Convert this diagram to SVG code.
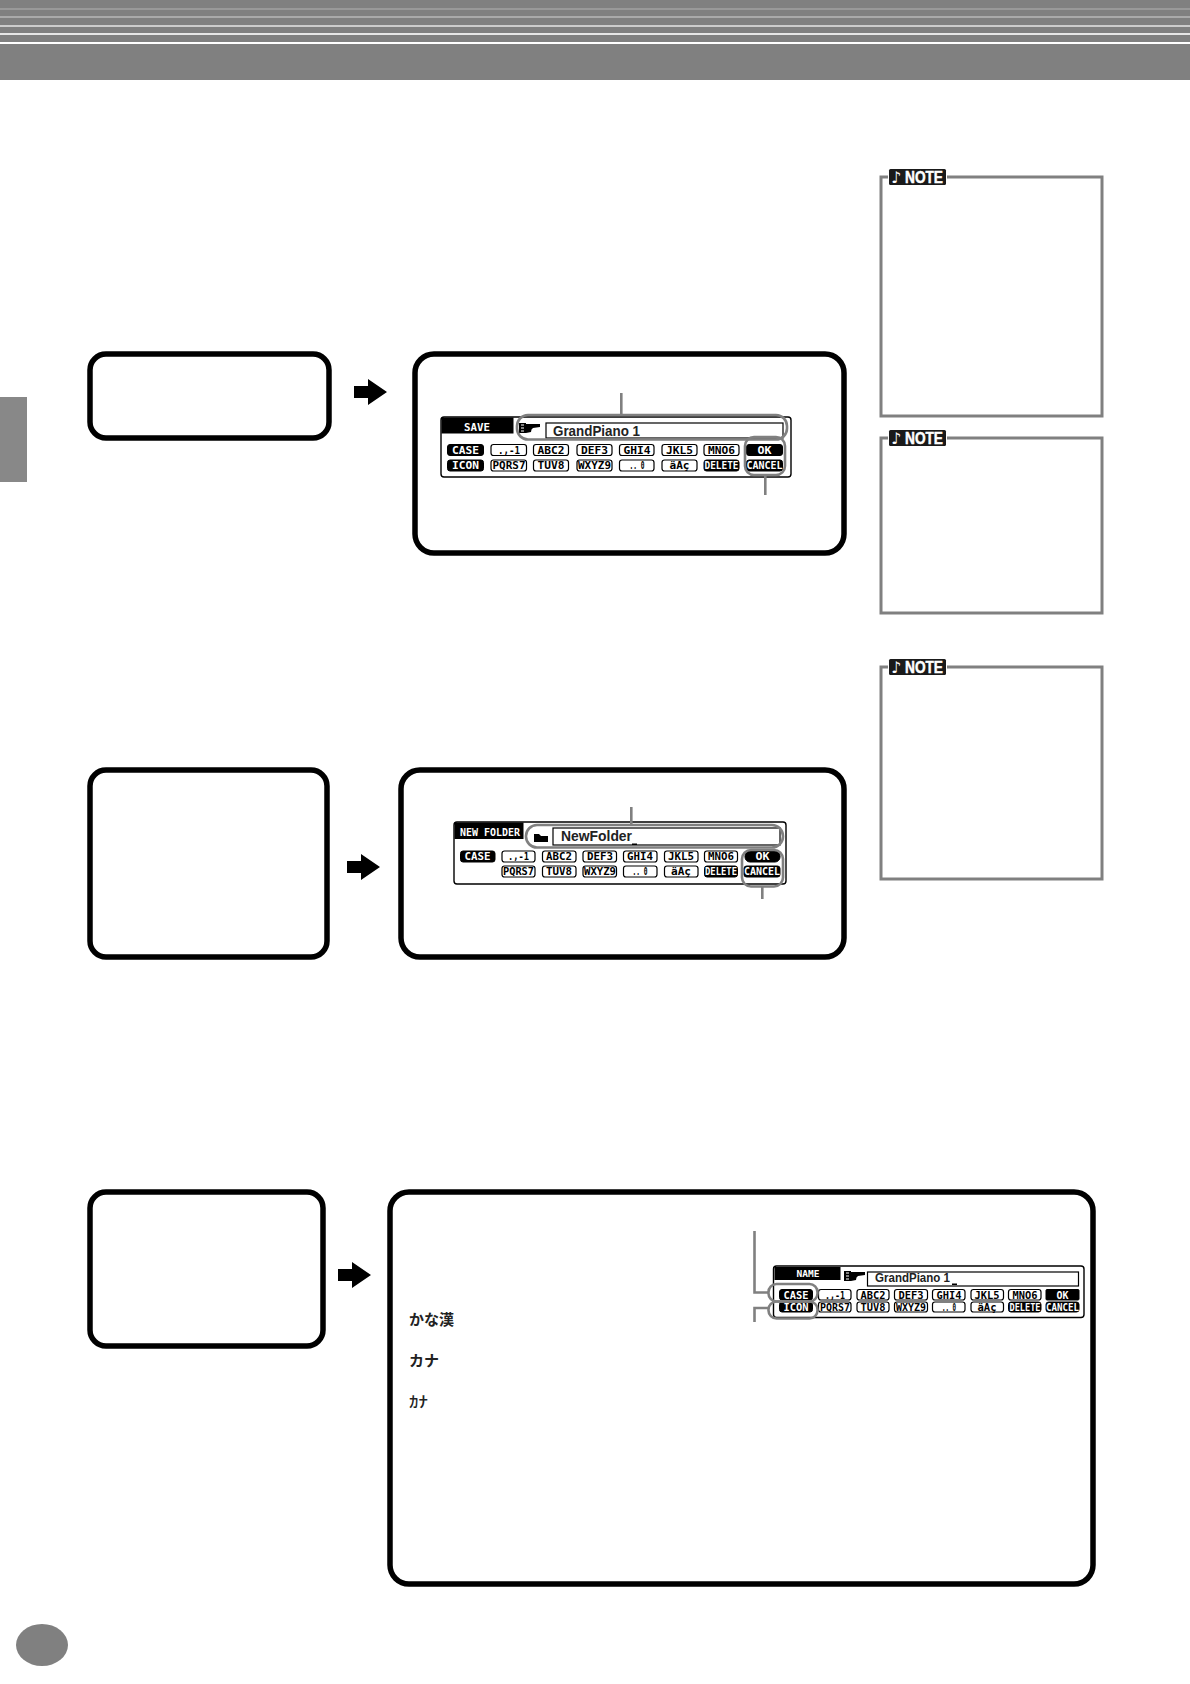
<svg xmlns="http://www.w3.org/2000/svg" width="1190" height="1684" viewBox="0 0 1190 1684">
<style>
.box{fill:#fff;stroke:#000;stroke-width:5.5}
.note{fill:#fff;stroke:#808080;stroke-width:3}
.hl{fill:none;stroke:#808080;stroke-width:2.6}
.lead{fill:none;stroke:#808080;stroke-width:2.6}
.lcd{fill:#fff;stroke:#000;stroke-width:1.4}
.nm{fill:#fff;stroke:#000;stroke-width:1.2}
.b{fill:#fff;stroke:#000;stroke-width:1.2}
.k{fill:#000;stroke:#000;stroke-width:1}
text{font-family:"DejaVu Sans Mono","Liberation Mono",monospace;font-weight:700;font-size:10.5px;text-anchor:middle;fill:#000}
.w{fill:#fff}
.name{font-family:"Liberation Sans",Arial,sans-serif;font-size:14.500px;text-anchor:start;fill:#222}
.jp{font-family:"Noto Sans CJK JP",sans-serif;font-size:15px;text-anchor:start;fill:#222}
.nt{font-family:"Liberation Sans",Arial,sans-serif;font-weight:700;font-size:16px;fill:#fff;stroke:#fff;stroke-width:.5;text-anchor:start}
.ms{font-family:"DejaVu Sans",sans-serif;font-weight:700;font-size:16px;fill:#fff}
</style>
<defs>
<g id="note-tag">
<rect x="0" y="0" width="59" height="17" fill="#fff"/>
<rect x="1" y="0" width="57" height="16" fill="#1a1a1a" rx="1.500"/>
<text class="ms" x="8" y="14">♪</text>
<text class="nt" x="17" y="14" textLength="38" lengthAdjust="spacingAndGlyphs">NOTE</text>
</g>
<path id="arrow" d="M0-6H14V-13L33 0 14 13V6H0Z" fill="#000"/>
<g id="piano">
<path d="M0 0H7V10H0Z" fill="#000"/>
<path d="M2 2H5M2 5H5M2 8H5" stroke="#fff" stroke-width="1" fill="none"/>
<path d="M7 1H21V4L14 5Q12 6 12 9L7 10Z" fill="#000"/>
</g>
</defs>

<g id="header">
<rect x="0" y="0" width="1190" height="80" fill="#808080"/>
<rect x="0" y="8" width="1190" height="2" fill="#999"/>
<rect x="0" y="16" width="1190" height="2" fill="#aaa"/>
<rect x="0" y="25" width="1190" height="2" fill="#ccc"/>
<rect x="0" y="33" width="1190" height="2" fill="#e6e6e6"/>
<rect x="0" y="42" width="1190" height="2" fill="#fff"/>
</g>
<rect id="side-tab" x="0" y="397" width="27" height="85" fill="#888"/>
<ellipse id="page-number" cx="42" cy="1645" rx="26" ry="21" fill="#808080"/>

<g id="note-1"><rect class="note" x="881" y="177" width="221" height="239"/><use href="#note-tag" x="888" y="169"/></g>
<g id="note-2"><rect class="note" x="881" y="438" width="221" height="175"/><use href="#note-tag" x="888" y="430"/></g>
<g id="note-3"><rect class="note" x="881" y="667" width="221" height="212"/><use href="#note-tag" x="888" y="659"/></g>

<g id="step-1-left"><rect class="box" x="90" y="354" width="239" height="84" rx="16"/></g>
<g id="step-2-left"><rect class="box" x="90" y="770" width="237" height="187" rx="16"/></g>
<g id="step-3-left"><rect class="box" x="90" y="1192" width="233" height="154" rx="16"/></g>

<g id="step-1-right">
<rect class="box" x="415" y="354" width="429" height="199" rx="19"/>
<g id="save-panel">
<rect class="lcd" x="441" y="417" width="350" height="60" rx="3"/>
<rect class="k" x="442" y="418" width="71" height="15"/><text class="w" x="477" y="431" textLength="26" lengthAdjust="spacingAndGlyphs">SAVE</text>
<use href="#piano" x="519" y="423"/>
<rect class="nm" x="546" y="423" width="237" height="15"/>
<text class="name" x="553" y="436" textLength="87" lengthAdjust="spacingAndGlyphs">GrandPiano 1</text>
<rect class="k" x="447.500" y="444.500" width="36" height="11" rx="2.500"/><text class="w" x="465.500" y="453.500" textLength="27" lengthAdjust="spacingAndGlyphs">CASE</text>
<rect class="b" x="491" y="444.500" width="35.500" height="11" rx="2.500"/><text x="509" y="453.500" textLength="22" lengthAdjust="spacingAndGlyphs">.,-1</text>
<rect class="b" x="533.500" y="444.500" width="35" height="11" rx="2.500"/><text x="551" y="453.500" textLength="27" lengthAdjust="spacingAndGlyphs">ABC2</text>
<rect class="b" x="577" y="444.500" width="35" height="11" rx="2.500"/><text x="594.500" y="453.500" textLength="27" lengthAdjust="spacingAndGlyphs">DEF3</text>
<rect class="b" x="619.500" y="444.500" width="34.500" height="11" rx="2.500"/><text x="637" y="453.500" textLength="27" lengthAdjust="spacingAndGlyphs">GHI4</text>
<rect class="b" x="662" y="444.500" width="35" height="11" rx="2.500"/><text x="679.500" y="453.500" textLength="27" lengthAdjust="spacingAndGlyphs">JKL5</text>
<rect class="b" x="704" y="444.500" width="35" height="11" rx="2.500"/><text x="721.500" y="453.500" textLength="27" lengthAdjust="spacingAndGlyphs">MNO6</text>
<rect class="k" x="746.500" y="444.500" width="36" height="11" rx="2.500"/><text class="w" x="764.500" y="453.500" textLength="14" lengthAdjust="spacingAndGlyphs">OK</text>
<rect class="k" x="447.500" y="460" width="36" height="11" rx="2.500"/><text class="w" x="465.500" y="469" textLength="27" lengthAdjust="spacingAndGlyphs">ICON</text>
<rect class="b" x="491" y="460" width="35.500" height="11" rx="2.500"/><text x="509" y="469" textLength="33" lengthAdjust="spacingAndGlyphs">PQRS7</text>
<rect class="b" x="533.500" y="460" width="35" height="11" rx="2.500"/><text x="551" y="469" textLength="27" lengthAdjust="spacingAndGlyphs">TUV8</text>
<rect class="b" x="577" y="460" width="35" height="11" rx="2.500"/><text x="594.500" y="469" textLength="33" lengthAdjust="spacingAndGlyphs">WXYZ9</text>
<rect class="b" x="619.500" y="460" width="34.500" height="11" rx="2.500"/><text x="637" y="469" textLength="15" lengthAdjust="spacingAndGlyphs">.. 0</text>
<rect class="b" x="662" y="460" width="35" height="11" rx="2.500"/><text x="679.500" y="469" textLength="20" lengthAdjust="spacingAndGlyphs">äAç</text>
<rect class="k" x="704" y="460" width="35" height="11" rx="2.500"/><text class="w" x="721.500" y="469" textLength="34" lengthAdjust="spacingAndGlyphs">DELETE</text>
<rect class="k" x="746.500" y="460" width="36" height="11" rx="2.500"/><text class="w" x="764.500" y="469" textLength="36" lengthAdjust="spacingAndGlyphs">CANCEL</text>
</g>
<rect class="hl" x="517" y="415" width="270" height="24.500" rx="11"/>
<rect class="hl" x="745" y="437" width="40" height="38" rx="9"/>
</g>

<g id="step-2-right">
<rect class="box" x="401" y="770" width="443" height="187" rx="19"/>
<g id="new-folder-panel">
<rect class="lcd" x="454" y="822" width="332" height="62" rx="3"/>
<rect class="k" x="455" y="823" width="68" height="15.500"/><text class="w" x="490" y="836" textLength="60" lengthAdjust="spacingAndGlyphs">NEW FOLDER</text>
<path d="M534 834H539L541 836H548V842H534Z" fill="#000"/>
<rect class="nm" x="553" y="828" width="227" height="17"/>
<text class="name" x="561" y="841" textLength="71" lengthAdjust="spacingAndGlyphs">NewFolder</text>
<rect x="632" y="843.500" width="5" height="1.500" fill="#000"/>
<rect class="k" x="460.500" y="851" width="34.500" height="11" rx="2.500"/><text class="w" x="477.500" y="860" textLength="26" lengthAdjust="spacingAndGlyphs">CASE</text>
<rect class="b" x="502" y="851" width="33" height="11" rx="2.500"/><text x="518.500" y="860" textLength="21" lengthAdjust="spacingAndGlyphs">.,-1</text>
<rect class="b" x="542.500" y="851" width="33.500" height="11" rx="2.500"/><text x="559" y="860" textLength="26" lengthAdjust="spacingAndGlyphs">ABC2</text>
<rect class="b" x="583" y="851" width="33.500" height="11" rx="2.500"/><text x="600" y="860" textLength="26" lengthAdjust="spacingAndGlyphs">DEF3</text>
<rect class="b" x="623.500" y="851" width="33.500" height="11" rx="2.500"/><text x="640" y="860" textLength="26" lengthAdjust="spacingAndGlyphs">GHI4</text>
<rect class="b" x="664.500" y="851" width="33.500" height="11" rx="2.500"/><text x="681" y="860" textLength="26" lengthAdjust="spacingAndGlyphs">JKL5</text>
<rect class="b" x="704.500" y="851" width="33" height="11" rx="2.500"/><text x="721" y="860" textLength="26" lengthAdjust="spacingAndGlyphs">MNO6</text>
<rect class="k" x="745" y="851" width="35" height="11" rx="5"/><text class="w" x="762.500" y="860" textLength="14" lengthAdjust="spacingAndGlyphs">OK</text>
<rect class="b" x="502" y="866" width="33" height="11" rx="2.500"/><text x="518.500" y="875" textLength="31" lengthAdjust="spacingAndGlyphs">PQRS7</text>
<rect class="b" x="542.500" y="866" width="33.500" height="11" rx="2.500"/><text x="559" y="875" textLength="26" lengthAdjust="spacingAndGlyphs">TUV8</text>
<rect class="b" x="583" y="866" width="33.500" height="11" rx="2.500"/><text x="600" y="875" textLength="32" lengthAdjust="spacingAndGlyphs">WXYZ9</text>
<rect class="b" x="623.500" y="866" width="33.500" height="11" rx="2.500"/><text x="640" y="875" textLength="15" lengthAdjust="spacingAndGlyphs">.. 0</text>
<rect class="b" x="664.500" y="866" width="33.500" height="11" rx="2.500"/><text x="681" y="875" textLength="20" lengthAdjust="spacingAndGlyphs">äAç</text>
<rect class="k" x="704.500" y="866" width="33" height="11" rx="2.500"/><text class="w" x="721" y="875" textLength="32" lengthAdjust="spacingAndGlyphs">DELETE</text>
<rect class="k" x="744" y="866" width="36" height="11" rx="2.500"/><text class="w" x="762" y="875" textLength="36" lengthAdjust="spacingAndGlyphs">CANCEL</text>
</g>
<rect class="hl" x="526" y="825" width="257" height="22.500" rx="11"/>
<rect class="hl" x="742" y="850" width="41" height="36.500" rx="9"/>
</g>

<g id="step-3-right">
<rect class="box" x="390" y="1192" width="703" height="392" rx="19"/>
<text class="jp" x="409" y="1325">かな漢</text>
<text class="jp" x="409" y="1366" font-size="14.500">カナ</text>
<text class="jp" x="409" y="1407" textLength="19" lengthAdjust="spacingAndGlyphs" style="font-size:15px;font-weight:500">ｶﾅ</text>
<g id="name-panel">
<rect class="lcd" x="773.500" y="1266" width="310.500" height="51.500" rx="3"/>
<rect class="k" x="775" y="1267.500" width="65" height="12"/><text class="w" x="808" y="1277" textLength="23" lengthAdjust="spacingAndGlyphs" style="font-size:9.500px">NAME</text>
<use href="#piano" x="844" y="1271"/>
<rect class="nm" x="867.500" y="1272" width="211" height="14"/>
<text class="name" x="875" y="1282" textLength="75" lengthAdjust="spacingAndGlyphs" style="font-size:13.500px">GrandPiano 1</text>
<rect x="952" y="1283.500" width="5" height="1.500" fill="#000"/>
<rect class="k" x="779.500" y="1289.500" width="33" height="10.500" rx="2.500"/><text class="w" x="796" y="1298.500" textLength="25" lengthAdjust="spacingAndGlyphs">CASE</text>
<rect class="b" x="818.500" y="1289.500" width="32.500" height="10.500" rx="2.500"/><text x="835" y="1298.500" textLength="20" lengthAdjust="spacingAndGlyphs">.,-1</text>
<rect class="b" x="857" y="1289.500" width="32" height="10.500" rx="2.500"/><text x="873" y="1298.500" textLength="25" lengthAdjust="spacingAndGlyphs">ABC2</text>
<rect class="b" x="894.500" y="1289.500" width="33" height="10.500" rx="2.500"/><text x="911" y="1298.500" textLength="25" lengthAdjust="spacingAndGlyphs">DEF3</text>
<rect class="b" x="932.500" y="1289.500" width="32.500" height="10.500" rx="2.500"/><text x="949" y="1298.500" textLength="25" lengthAdjust="spacingAndGlyphs">GHI4</text>
<rect class="b" x="971" y="1289.500" width="32.500" height="10.500" rx="2.500"/><text x="987" y="1298.500" textLength="25" lengthAdjust="spacingAndGlyphs">JKL5</text>
<rect class="b" x="1008.500" y="1289.500" width="32.500" height="10.500" rx="2.500"/><text x="1025" y="1298.500" textLength="25" lengthAdjust="spacingAndGlyphs">MNO6</text>
<rect class="k" x="1046" y="1289.500" width="33" height="10.500" rx="1"/><text class="w" x="1062.500" y="1298.500" textLength="12" lengthAdjust="spacingAndGlyphs">OK</text>
<rect class="k" x="779.500" y="1302" width="33" height="10" rx="2.500"/><text class="w" x="796" y="1310.500" textLength="25" lengthAdjust="spacingAndGlyphs">ICON</text>
<rect class="b" x="818.500" y="1302" width="32.500" height="10" rx="2.500"/><text x="835" y="1310.500" textLength="30" lengthAdjust="spacingAndGlyphs">PQRS7</text>
<rect class="b" x="857" y="1302" width="32" height="10" rx="2.500"/><text x="873" y="1310.500" textLength="25" lengthAdjust="spacingAndGlyphs">TUV8</text>
<rect class="b" x="894.500" y="1302" width="33" height="10" rx="2.500"/><text x="911" y="1310.500" textLength="30" lengthAdjust="spacingAndGlyphs">WXYZ9</text>
<rect class="b" x="932.500" y="1302" width="32.500" height="10" rx="2.500"/><text x="949" y="1310.500" textLength="14" lengthAdjust="spacingAndGlyphs">.. 0</text>
<rect class="b" x="971" y="1302" width="32.500" height="10" rx="2.500"/><text x="987" y="1310.500" textLength="19" lengthAdjust="spacingAndGlyphs">äAç</text>
<rect class="k" x="1008.500" y="1302" width="32.500" height="10" rx="2.500"/><text class="w" x="1025" y="1310.500" textLength="31" lengthAdjust="spacingAndGlyphs">DELETE</text>
<rect class="k" x="1046" y="1302" width="33" height="10" rx="2.500"/><text class="w" x="1062.500" y="1310.500" textLength="33" lengthAdjust="spacingAndGlyphs">CANCEL</text>
</g>
<rect class="hl" x="768.500" y="1284" width="49" height="17.500" rx="8"/>
<rect class="hl" x="768.500" y="1301.500" width="49" height="17" rx="8"/>
</g>

<g id="connectors">
<use href="#arrow" x="354" y="392"/>
<use href="#arrow" x="347" y="867"/>
<use href="#arrow" x="338" y="1275"/>
<path class="lead" d="M621.300 393V415"/>
<path class="lead" d="M765.300 475V495"/>
<path class="lead" d="M631.300 807V825"/>
<path class="lead" d="M762.300 886.500V899"/>
<path class="lead" d="M754.500 1231V1292.500H768.500"/>
<path class="lead" d="M754.500 1322V1308H768.500"/>
</g>
</svg>
